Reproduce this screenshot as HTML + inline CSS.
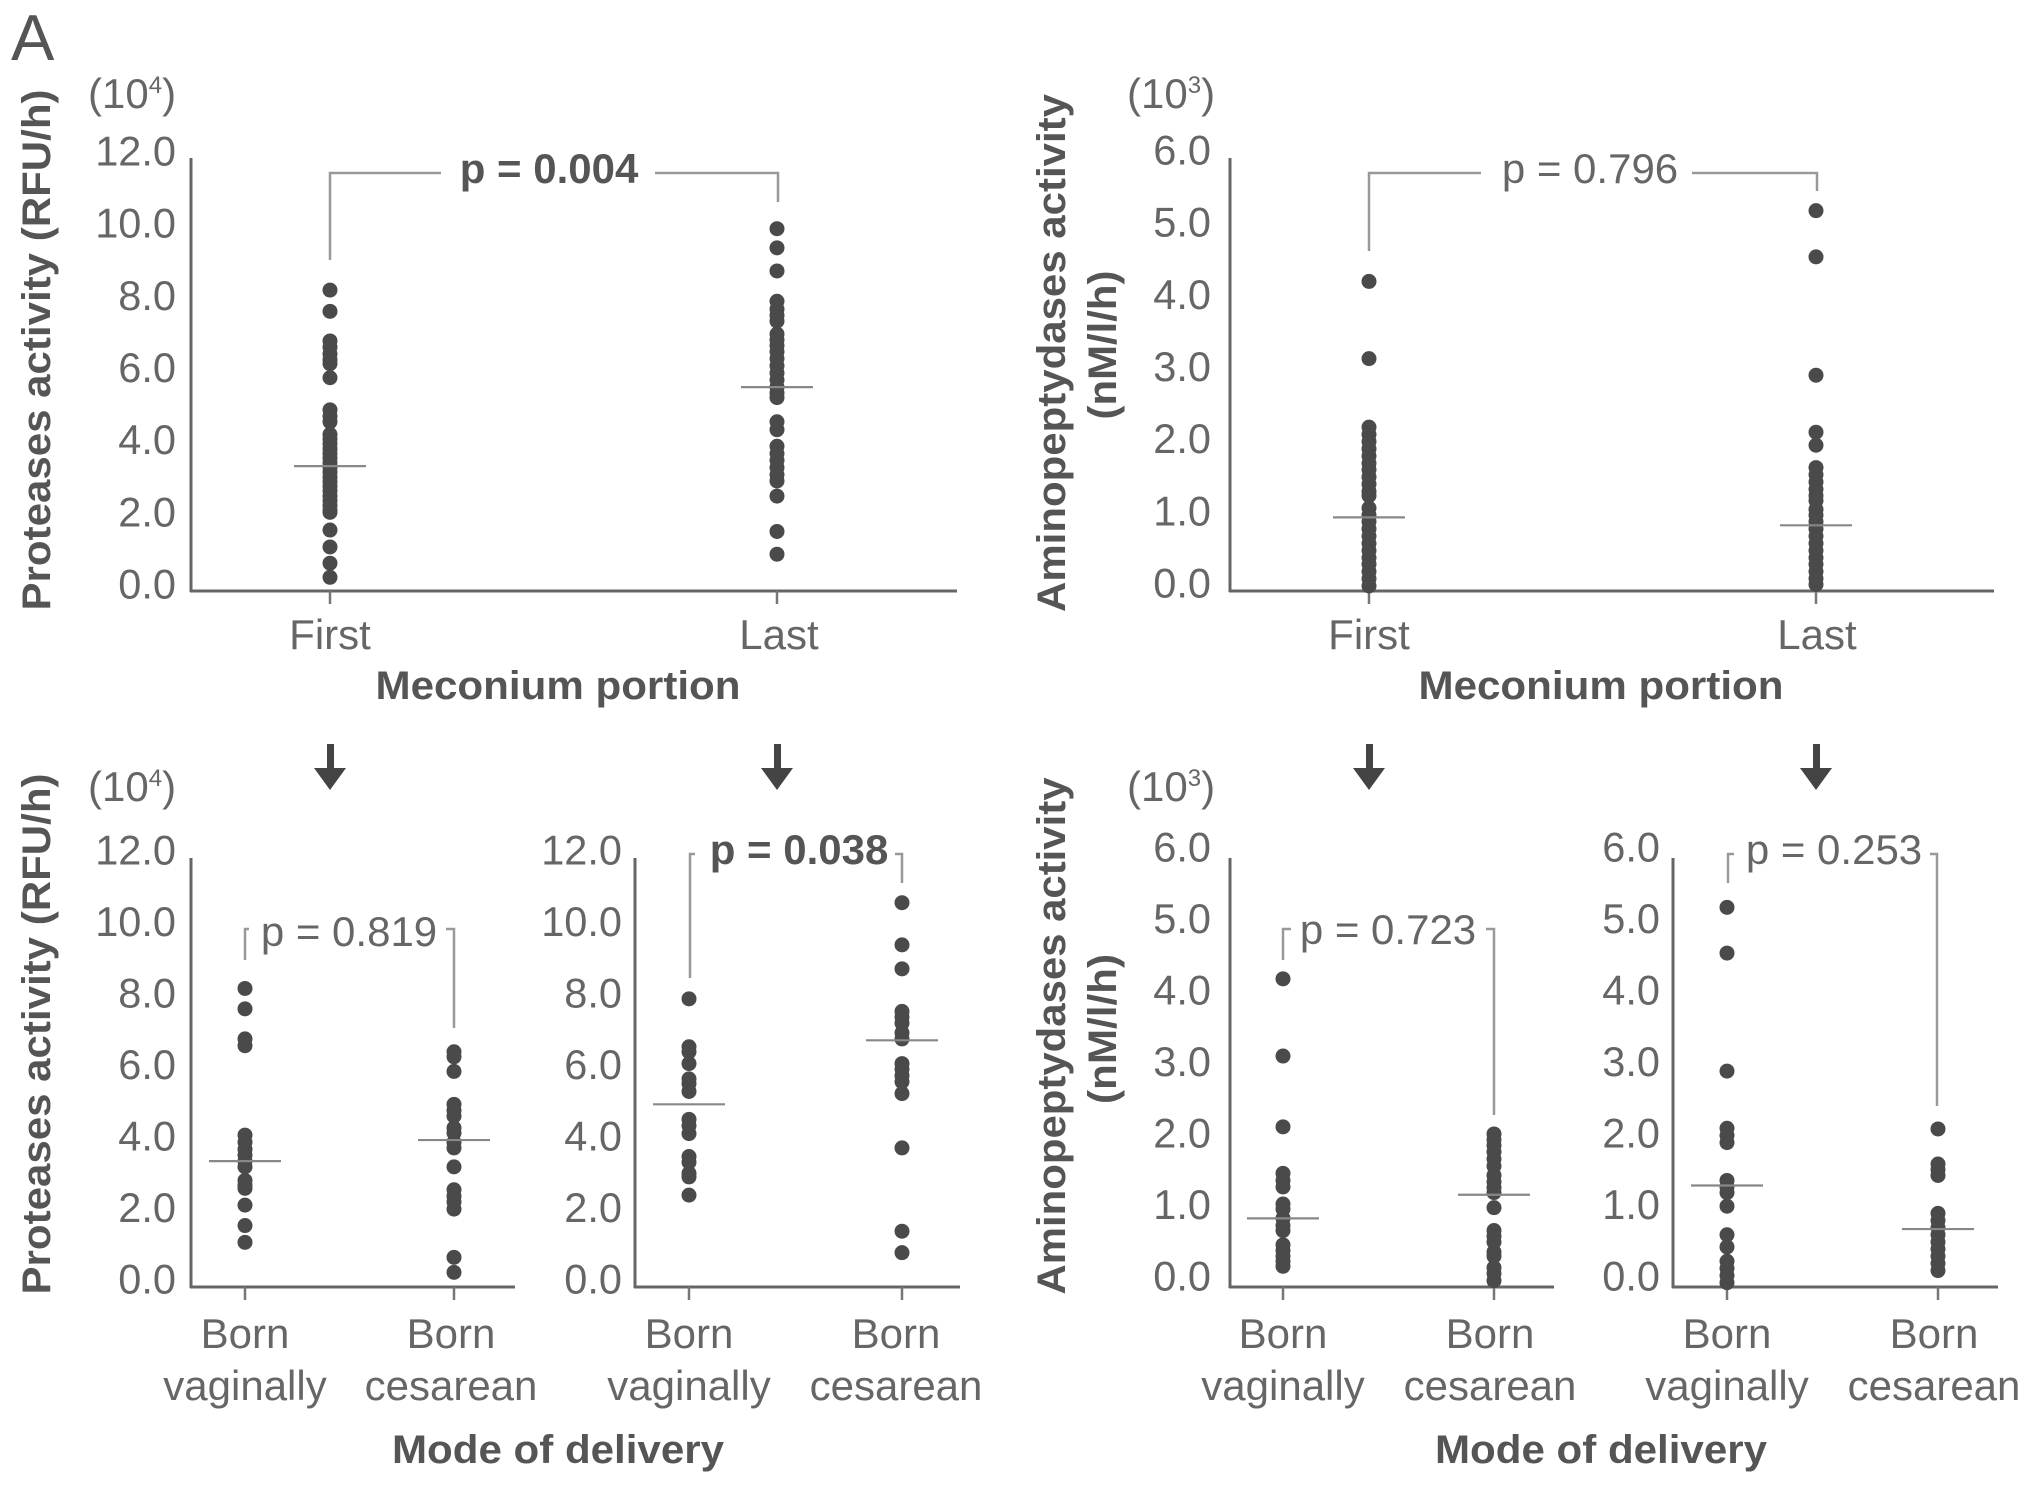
<!DOCTYPE html>
<html>
<head>
<meta charset="utf-8">
<title>Meconium activity dot plots</title>
<style>
html,body{margin:0;padding:0;background:#fff;}
svg{display:block;font-family:"Liberation Sans",sans-serif;}
.tl{fill:#666;font-size:41.5px;}
.cl{fill:#666;font-size:42px;}
.ti{fill:#555;font-weight:bold;font-size:40px;}
.p{fill:#666;font-size:42px;text-anchor:middle;}
.pb{fill:#555;font-size:42px;font-weight:bold;text-anchor:middle;}
.br{fill:none;stroke:#999;stroke-width:2.5;}
</style>
</head>
<body>
<svg id="fig" xmlns="http://www.w3.org/2000/svg" width="2031" height="1486" viewBox="0 0 2031 1486">
<rect width="2031" height="1486" fill="#fff"/>
<text x="11" y="60" font-size="65" fill="#555">A</text>

<text class="cl" x="88" y="108">(10<tspan font-size="24" dy="-15">4</tspan><tspan dy="15">)</tspan></text>
<text class="cl" x="1127" y="108">(10<tspan font-size="24" dy="-15">3</tspan><tspan dy="15">)</tspan></text>
<text class="cl" x="88" y="801">(10<tspan font-size="24" dy="-15">4</tspan><tspan dy="15">)</tspan></text>
<text class="cl" x="1127" y="801">(10<tspan font-size="24" dy="-15">3</tspan><tspan dy="15">)</tspan></text>

<text class="ti" text-anchor="middle" textLength="521" lengthAdjust="spacingAndGlyphs" transform="translate(50,350) rotate(-90)">Proteases activity (RFU/h)</text>
<text class="ti" text-anchor="middle" textLength="518" lengthAdjust="spacingAndGlyphs" transform="translate(1065,353) rotate(-90)">Aminopeptydases activity</text>
<text class="ti" text-anchor="middle" textLength="149" lengthAdjust="spacingAndGlyphs" transform="translate(1116,345) rotate(-90)">(nM/l/h)</text>
<text class="ti" text-anchor="middle" textLength="521" lengthAdjust="spacingAndGlyphs" transform="translate(50,1034) rotate(-90)">Proteases activity (RFU/h)</text>
<text class="ti" text-anchor="middle" textLength="517" lengthAdjust="spacingAndGlyphs" transform="translate(1065,1036) rotate(-90)">Aminopeptydases activity</text>
<text class="ti" text-anchor="middle" textLength="150" lengthAdjust="spacingAndGlyphs" transform="translate(1116,1029) rotate(-90)">(nM/l/h)</text>

<text class="ti" text-anchor="middle" x="558" y="699" textLength="365" lengthAdjust="spacingAndGlyphs">Meconium portion</text>
<text class="ti" text-anchor="middle" x="1601" y="699" textLength="365" lengthAdjust="spacingAndGlyphs">Meconium portion</text>
<text class="ti" text-anchor="middle" x="558" y="1463" textLength="332" lengthAdjust="spacingAndGlyphs">Mode of delivery</text>
<text class="ti" text-anchor="middle" x="1601" y="1463" textLength="332" lengthAdjust="spacingAndGlyphs">Mode of delivery</text>

<g><path class="br" d="M330 260V173H441M655 173H778V202"/><text class="pb" x="549" y="183">p = 0.004</text></g>
<g><path class="br" d="M1369 251V173H1481M1692 173H1817V191"/><text class="p" x="1590" y="183">p = 0.796</text></g>
<g><path class="br" d="M245 960V929H249M446 929H454V1028"/><text class="p" x="349" y="946">p = 0.819</text></g>
<g><path class="br" d="M690 978V854H695M895 854H902V883"/><text class="pb" x="799" y="864">p = 0.038</text></g>
<g><path class="br" d="M1283 960V929H1291M1486 929H1494V1115"/><text class="p" x="1388" y="944">p = 0.723</text></g>
<g><path class="br" d="M1728 883V854H1734M1930 854H1937V1106"/><text class="p" x="1834" y="864">p = 0.253</text></g>

<g fill="#444"><path d="M327 744h7v24h12l-16 22-16-22h13z"/></g>
<g fill="#444"><path d="M774 744h7v24h12l-16 22-16-22h13z"/></g>
<g fill="#444"><path d="M1366 744h7v24h12l-16 22-16-22h13z"/></g>
<g fill="#444"><path d="M1813 744h7v24h12l-16 22-16-22h13z"/></g>
</svg>
<script>
var proteaseTicks = ['0.0','2.0','4.0','6.0','8.0','10.0','12.0'];
var peptidaseTicks = ['0.0','1.0','2.0','3.0','4.0','5.0','6.0'];
var portionCategories = [['First'],['Last']];
var deliveryCategories = [['Born','vaginally'],['Born','cesarean']];

var proteasesFirst = [8.34,7.75,6.93,6.76,6.57,6.41,6.30,5.91,5.02,4.84,4.69,4.34,4.21,4.08,3.94,3.81,3.68,3.55,3.42,3.29,3.16,3.03,2.90,2.77,2.63,2.50,2.37,2.24,2.18,1.69,1.22,0.77,0.38];
var proteasesLast = [10.04,9.51,8.87,8.03,7.81,7.64,7.48,7.12,6.96,6.80,6.63,6.44,6.24,6.04,5.85,5.65,5.49,5.36,4.69,4.47,4.01,3.81,3.62,3.42,3.22,3.05,2.63,1.65,1.02];
var proteasesPortionMeans = [3.46,5.65];

var peptidaseFirst = [4.29,3.22,2.27,2.17,2.07,1.97,1.87,1.77,1.68,1.58,1.48,1.38,1.32,1.15,1.05,0.96,0.86,0.76,0.66,0.56,0.46,0.37,0.27,0.17,0.07];
var peptidaseLast = [5.27,4.63,2.99,2.20,2.02,1.71,1.61,1.51,1.41,1.32,1.25,1.13,1.05,0.96,0.86,0.76,0.66,0.56,0.46,0.37,0.27,0.17,0.09];
var peptidasePortionMeans = [1.02,0.91];

var proteasesFirstVaginal = [8.35,7.78,6.94,6.75,4.25,4.05,3.85,3.69,3.52,3.36,2.98,2.85,2.76,2.29,1.72,1.25];
var proteasesFirstCesarean = [6.58,6.44,6.03,5.11,4.94,4.78,4.45,4.31,4.05,3.89,3.36,2.72,2.54,2.38,2.18,0.83,0.41];
var proteasesFirstMeans = [3.52,4.11];

var proteasesLastVaginal = [8.06,6.72,6.58,6.25,5.82,5.69,5.47,4.69,4.51,4.29,3.65,3.49,3.18,3.08,2.57];
var proteasesLastCesarean = [10.75,9.57,8.90,7.71,7.55,7.38,7.11,6.94,6.25,6.09,5.91,5.74,5.41,3.89,1.56,0.96];
var proteasesLastMeans = [5.11,6.90];

var peptidaseFirstVaginal = [4.31,3.23,2.24,1.59,1.49,1.40,1.16,1.09,0.96,0.86,0.79,0.59,0.51,0.43,0.36,0.29];
var peptidaseFirstCesarean = [2.14,2.06,1.98,1.89,1.79,1.69,1.56,1.47,1.39,1.32,1.11,0.79,0.71,0.63,0.49,0.43,0.27,0.19,0.09];
var peptidaseFirstMeans = [0.96,1.29];

var peptidaseLastVaginal = [5.31,4.67,3.02,2.22,2.12,2.02,1.49,1.40,1.32,1.13,0.73,0.56,0.36,0.26,0.16,0.06];
var peptidaseLastCesarean = [2.21,1.72,1.64,1.56,1.03,0.93,0.83,0.73,0.63,0.53,0.43,0.33,0.23];
var peptidaseLastMeans = [1.42,0.81];

var SVGNS = 'http://www.w3.org/2000/svg';
var fig = document.getElementById('fig');

function make(tag, parent, attrs) {
  var el = document.createElementNS(SVGNS, tag);
  for (var k in attrs) { el.setAttribute(k, attrs[k]); }
  parent.appendChild(el);
  return el;
}

function drawPanel(id, frame, yMax, ticks, cats, series, means) {
  var g = make('g', fig, {});
  
  
  function y(v) { return frame.bottom - (v / yMax) * (frame.bottom - frame.top); }
  function x(i) { return frame.cat0 + i * (frame.cat1 - frame.cat0); }

  var yAxis = make('line', g, {x1: frame.left, x2: frame.left, y1: frame.top, y2: frame.bottom + 1, stroke: '#666', 'stroke-width': 3});
  
  
  var xAxis = make('line', g, {x1: frame.left - 1, x2: frame.right, y1: frame.bottom, y2: frame.bottom, stroke: '#666', 'stroke-width': 3});
  
  

  ticks.forEach(function (label) {
    var t = make('text', g, {x: frame.labelRight, y: y(parseFloat(label)) + frame.labelShift, 'text-anchor': 'end', 'class': 'tl'});
    
    
    t.textContent = label;
  });

  cats.forEach(function (lines, i) {
    var tick = make('line', g, {x1: x(i), x2: x(i), y1: frame.bottom, y2: frame.bottom + 13, stroke: '#777', 'stroke-width': 2.5});
    
    
    lines.forEach(function (line, j) {
      var t = make('text', g, {x: x(i) + (i ? frame.catTextShift : 0), y: frame.catBase + j * 52, 'text-anchor': 'middle', 'class': 'cl'});
      
      
      t.textContent = line;
    });
  });

  series.forEach(function (values, i) {
    values.forEach(function (v) {
      var dot = make('circle', g, {cx: x(i), cy: y(v), r: 7.5, fill: '#4a4a4a'});
      
      
    });
    var m = make('line', g, {x1: x(i) - 36, x2: x(i) + 36, y1: y(means[i]), y2: y(means[i]), stroke: '#888', 'stroke-width': 2.2});
    
    
  });
}

drawPanel('a', {left:191, right:957, top:158, bottom:591, cat0:330, cat1:777, labelRight:176, labelShift:7.5, catBase:649, catTextShift:2}, 12, proteaseTicks, portionCategories, [proteasesFirst, proteasesLast], proteasesPortionMeans);
drawPanel('b', {left:1230, right:1994, top:158, bottom:591, cat0:1369, cat1:1816, labelRight:1211, labelShift:6.5, catBase:649, catTextShift:1}, 6, peptidaseTicks, portionCategories, [peptidaseFirst, peptidaseLast], peptidasePortionMeans);
drawPanel('c', {left:191, right:515, top:858, bottom:1287, cat0:245, cat1:454, labelRight:176, labelShift:6.5, catBase:1348, catTextShift:-3}, 12, proteaseTicks, deliveryCategories, [proteasesFirstVaginal, proteasesFirstCesarean], proteasesFirstMeans);
drawPanel('d', {left:635, right:960, top:858, bottom:1287, cat0:689, cat1:902, labelRight:622, labelShift:6.5, catBase:1348, catTextShift:-6}, 12, proteaseTicks, deliveryCategories, [proteasesLastVaginal, proteasesLastCesarean], proteasesLastMeans);
drawPanel('e', {left:1230, right:1554, top:858, bottom:1287, cat0:1283, cat1:1494, labelRight:1211, labelShift:3.5, catBase:1348, catTextShift:-4}, 6, peptidaseTicks, deliveryCategories, [peptidaseFirstVaginal, peptidaseFirstCesarean], peptidaseFirstMeans);
drawPanel('f', {left:1673, right:1998, top:858, bottom:1287, cat0:1727, cat1:1938, labelRight:1660, labelShift:3.5, catBase:1348, catTextShift:-4}, 6, peptidaseTicks, deliveryCategories, [peptidaseLastVaginal, peptidaseLastCesarean], peptidaseLastMeans);
</script>
</body>
</html>
